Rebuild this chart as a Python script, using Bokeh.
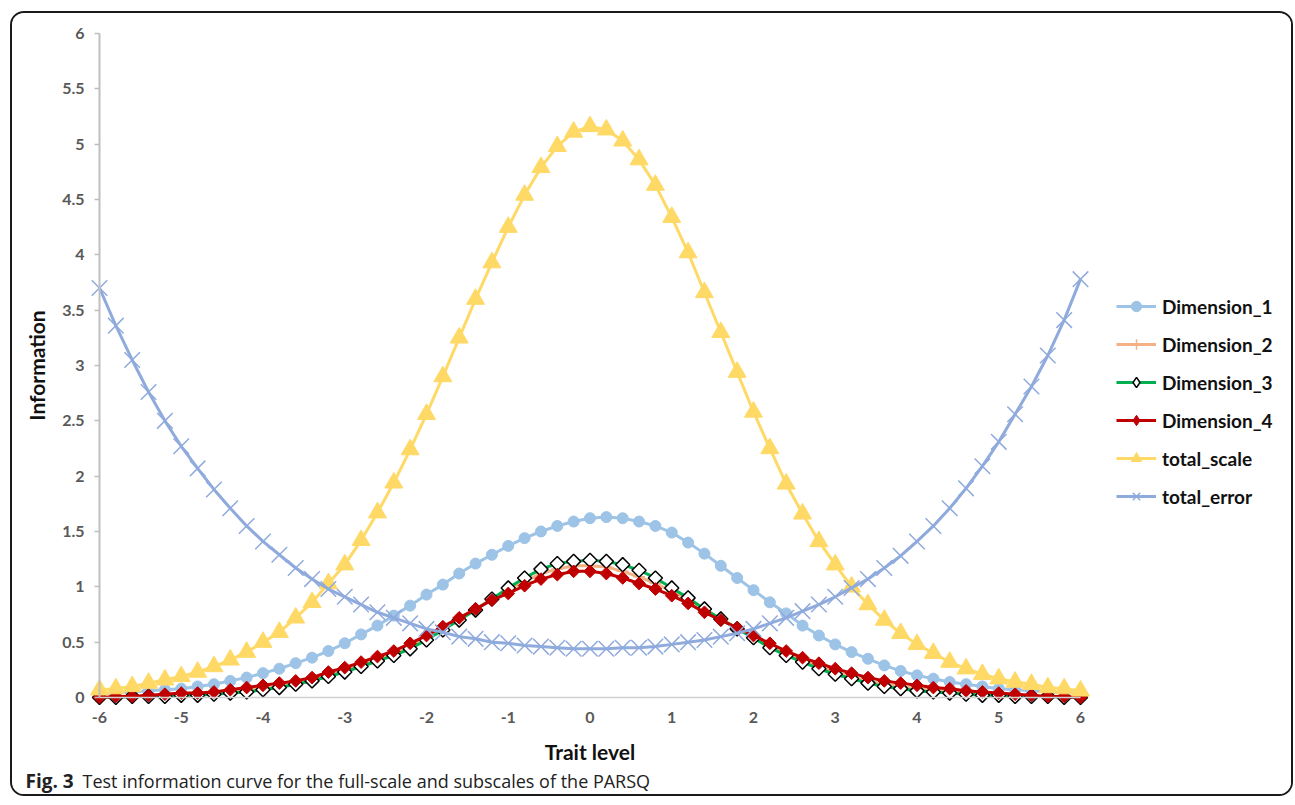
import numpy as np
from bokeh.plotting import figure
from bokeh.models import Range1d, FixedTicker, Legend, LegendItem, Label
from bokeh.embed import file_html
from bokeh.resources import INLINE

# ---------------- data ----------------
trait = [round(-6 + 0.2 * i, 1) for i in range(61)]

dimension_1 = [0.03, 0.04, 0.05, 0.06, 0.07, 0.08, 0.10, 0.12, 0.15, 0.18,
               0.22, 0.26, 0.31, 0.36, 0.42, 0.49, 0.57, 0.65, 0.74, 0.83,
               0.93, 1.02, 1.12, 1.21, 1.29, 1.37, 1.44, 1.50, 1.55, 1.59,
               1.62, 1.63, 1.62, 1.59, 1.55, 1.49, 1.40, 1.30, 1.19, 1.08,
               0.97, 0.86, 0.76, 0.65, 0.56, 0.48, 0.41, 0.35, 0.29, 0.24,
               0.20, 0.17, 0.14, 0.12, 0.10, 0.08, 0.07, 0.06, 0.05, 0.04, 0.04]

dimension_2 = [0.00, 0.01, 0.01, 0.01, 0.02, 0.03, 0.03, 0.04, 0.05, 0.07,
               0.09, 0.11, 0.13, 0.16, 0.21, 0.25, 0.30, 0.35, 0.40, 0.46,
               0.54, 0.62, 0.71, 0.80, 0.89, 0.97, 1.05, 1.12, 1.16, 1.19,
               1.19, 1.18, 1.14, 1.09, 1.03, 0.96, 0.88, 0.79, 0.71, 0.63,
               0.55, 0.47, 0.40, 0.34, 0.28, 0.23, 0.19, 0.15, 0.12, 0.10,
               0.08, 0.07, 0.06, 0.04, 0.03, 0.03, 0.02, 0.01, 0.01, 0.01, 0.00]

dimension_3 = [0.00, 0.00, 0.01, 0.01, 0.01, 0.02, 0.02, 0.03, 0.04, 0.05,
               0.07, 0.09, 0.12, 0.15, 0.19, 0.23, 0.28, 0.33, 0.38, 0.44,
               0.52, 0.61, 0.70, 0.79, 0.89, 0.99, 1.08, 1.16, 1.21, 1.23,
               1.24, 1.23, 1.20, 1.15, 1.08, 0.99, 0.90, 0.80, 0.71, 0.62,
               0.54, 0.45, 0.38, 0.32, 0.26, 0.21, 0.17, 0.13, 0.10, 0.08,
               0.06, 0.05, 0.04, 0.03, 0.02, 0.02, 0.01, 0.01, 0.01, 0.00, 0.00]

dimension_4 = [0.00, 0.01, 0.01, 0.02, 0.03, 0.04, 0.04, 0.05, 0.07, 0.09,
               0.11, 0.13, 0.15, 0.18, 0.23, 0.27, 0.32, 0.37, 0.42, 0.49,
               0.56, 0.64, 0.72, 0.80, 0.88, 0.94, 1.01, 1.07, 1.11, 1.14,
               1.14, 1.12, 1.08, 1.03, 0.98, 0.92, 0.85, 0.77, 0.70, 0.63,
               0.56, 0.49, 0.42, 0.36, 0.31, 0.26, 0.22, 0.18, 0.15, 0.13,
               0.11, 0.09, 0.08, 0.06, 0.05, 0.04, 0.03, 0.02, 0.01, 0.01, 0.00]

total_scale = [0.07, 0.08, 0.10, 0.13, 0.16, 0.19, 0.23, 0.28, 0.34, 0.41,
               0.50, 0.59, 0.72, 0.86, 1.03, 1.20, 1.42, 1.67, 1.94, 2.24,
               2.56, 2.90, 3.25, 3.60, 3.93, 4.25, 4.54, 4.79, 4.98, 5.11,
               5.16, 5.13, 5.03, 4.86, 4.63, 4.34, 4.02, 3.66, 3.30, 2.94,
               2.58, 2.25, 1.93, 1.66, 1.41, 1.20, 1.00, 0.84, 0.70, 0.58,
               0.48, 0.40, 0.32, 0.26, 0.21, 0.17, 0.14, 0.12, 0.09, 0.08, 0.06]

total_error = [3.70, 3.36, 3.05, 2.76, 2.50, 2.27, 2.07, 1.88, 1.71, 1.55,
               1.41, 1.29, 1.17, 1.07, 0.98, 0.91, 0.84, 0.77, 0.72, 0.67,
               0.62, 0.59, 0.55, 0.53, 0.50, 0.49, 0.47, 0.46, 0.45, 0.44,
               0.44, 0.44, 0.45, 0.45, 0.46, 0.48, 0.50, 0.52, 0.55, 0.58,
               0.62, 0.67, 0.72, 0.78, 0.84, 0.91, 0.99, 1.07, 1.17, 1.28,
               1.41, 1.55, 1.71, 1.89, 2.09, 2.31, 2.56, 2.81, 3.09, 3.41, 3.78]

x_ticks = [-6, -5, -4, -3, -2, -1, 0, 1, 2, 3, 4, 5, 6]
y_ticks = [0, 0.5, 1, 1.5, 2, 2.5, 3, 3.5, 4, 4.5, 5, 5.5, 6]
y_tick_labels = ["0", "0.5", "1", "1.5", "2", "2.5", "3", "3.5", "4", "4.5", "5", "5.5", "6"]

# ---------------- figure ----------------
p = figure(frame_width=1279, frame_height=781,
           min_border_left=0, min_border_right=0, min_border_top=0, min_border_bottom=0,
           x_range=Range1d(-7.0642, 8.5810), y_range=Range1d(-0.8765, 6.1806),
           output_backend="svg", toolbar_location=None,
           background_fill_color="white", border_fill_color="white",
           styles={"margin-left": "10px", "margin-top": "11px",
                   "border": "2px solid #1a1a1a", "border-radius": "14px",
                   "overflow": "hidden"})
p.outline_line_color = None
p.xgrid.visible = False
p.ygrid.visible = False

# axes
p.yaxis.fixed_location = -6
p.yaxis.bounds = (0, 6)
p.yaxis.ticker = FixedTicker(ticks=y_ticks)
p.yaxis.major_label_overrides = {t: s for t, s in zip(y_ticks, y_tick_labels)}
p.yaxis.axis_line_color = "#bfbfbf"
p.yaxis.axis_line_width = 2
p.yaxis.major_tick_line_color = "#bfbfbf"
p.yaxis.major_tick_line_width = 1.5
p.yaxis.major_tick_out = 5
p.yaxis.major_tick_in = 0
p.yaxis.minor_tick_line_color = None
p.yaxis.major_label_standoff = 10
p.yaxis.axis_label = "Information"
p.yaxis.axis_label_standoff = 10

p.xaxis.fixed_location = 0
p.xaxis.bounds = (-6, 6)
p.xaxis.ticker = FixedTicker(ticks=x_ticks)
p.xaxis.major_label_overrides = {t: str(t) for t in x_ticks}
p.xaxis.axis_line_color = "#d0d0d0"
p.xaxis.axis_line_width = 1.5
p.xaxis.major_tick_line_color = None
p.xaxis.minor_tick_line_color = None
p.xaxis.major_tick_out = 0
p.xaxis.major_tick_in = 0
p.xaxis.major_label_standoff = 15
p.xaxis.axis_label = "Trait level"
p.xaxis.axis_label_standoff = 12

for ax in (p.xaxis, p.yaxis):
    ax.major_label_text_font = "Lato"
    ax.major_label_text_font_style = "bold"
    ax.major_label_text_font_size = "16px"
    ax.major_label_text_color = "#595959"
    ax.axis_label_text_font = "Lato"
    ax.axis_label_text_font_style = "bold"
    ax.axis_label_text_font_size = "21px"
    ax.axis_label_text_color = "#111111"

# ---------------- series ----------------
items = []
off = [100.0]  # legend-only marker kept outside the visible ranges

l1 = p.line(trait, dimension_1, line_color="#9dc3e6", line_width=3)
s1 = p.scatter(trait, dimension_1, marker="circle", size=11,
               fill_color="#9dc3e6", line_color="#9dc3e6")
items.append(LegendItem(label="Dimension_1", renderers=[l1, s1]))

l2 = p.line(trait, dimension_2, line_color="#f4b183", line_width=3)
s2 = p.scatter(trait, dimension_2, marker="cross", size=12,
               line_color="#f4b183", line_width=1.5)
items.append(LegendItem(label="Dimension_2", renderers=[l2, s2]))

l3 = p.line(trait, dimension_3, line_color="#00b050", line_width=3)
s3 = p.scatter(trait, dimension_3, marker="square", angle=np.pi / 4, size=10,
               fill_color="white", line_color="black", line_width=1.5)
k3 = p.scatter(off, off, marker="diamond", size=12, fill_color="white",
               line_color="black", line_width=1.5)
items.append(LegendItem(label="Dimension_3", renderers=[l3, k3]))

l4 = p.line(trait, dimension_4, line_color="#c00000", line_width=3)
s4 = p.scatter(trait, dimension_4, marker="square", angle=np.pi / 4, size=9,
               fill_color="#c00000", line_color="#c00000")
k4 = p.scatter(off, off, marker="diamond", size=12, fill_color="#c00000",
               line_color="#c00000")
items.append(LegendItem(label="Dimension_4", renderers=[l4, k4]))

l5 = p.line(trait, total_scale, line_color="#ffd966", line_width=3)
s5 = p.scatter(trait, total_scale, marker="triangle", size=18,
               fill_color="#ffd966", line_color="#ffd966")
items.append(LegendItem(label="total_scale", renderers=[l5, s5]))

l6 = p.line(trait, total_error, line_color="#8faadc", line_width=3)
s6 = p.scatter(trait, total_error, marker="x", size=22,
               line_color="#8faadc", line_width=1.5)
items.append(LegendItem(label="total_error", renderers=[l6, s6]))

legend = Legend(items=items, location=(1104, 285),
                glyph_width=40, glyph_height=26, label_height=22, spacing=12,
                label_standoff=6, padding=0, margin=0,
                border_line_color=None, background_fill_alpha=0,
                label_text_font="Lato", label_text_font_style="bold",
                label_text_font_size="19px", label_text_color="#111111")
p.add_layout(legend)

# caption
cap1 = Label(x=-6.905, y=-0.75, text="Fig. 3", text_font="Open Sans",
             text_font_style="bold", text_font_size="19px", text_color="#222222",
             text_baseline="alphabetic")
cap2 = Label(x=-6.905, y=-0.75, x_offset=57,
             text="Test information curve for the full-scale and subscales of the PARSQ",
             text_font="Open Sans", text_font_size="18px", text_color="#222222",
             text_baseline="alphabetic")
p.add_layout(cap1)
p.add_layout(cap2)

open("out.html", "w").write(file_html(p, INLINE))
